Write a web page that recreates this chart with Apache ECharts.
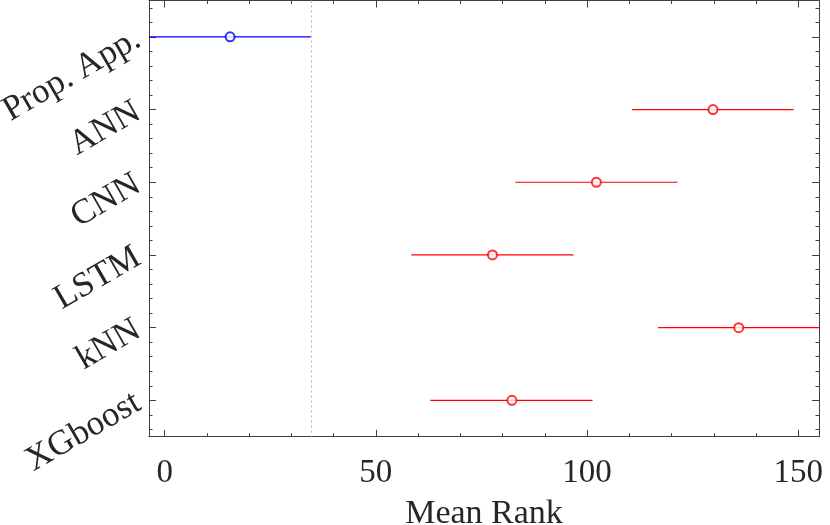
<!DOCTYPE html>
<html>
<head>
<meta charset="utf-8">
<script src="https://cdn.jsdelivr.net/npm/echarts@6/dist/echarts.min.js"></script>
<style>
  html, body { margin: 0; padding: 0; background: #fff; }
  #echart { width: 830px; height: 525px; }
</style>
</head>
<body>
<div id="echart"></div>
<script>
// groups, top to bottom
var methods = ['Prop. App.', 'ANN', 'CNN', 'LSTM', 'kNN', 'XGboost'];
// mean rank and comparison interval ends
var meanRank = [15.5, 129.8, 102.2, 77.6, 135.9, 82.2];
var lowerCI  = [-3.7, 110.6, 83.0, 58.4, 116.8, 62.9];
var upperCI  = [34.6, 148.9, 121.4, 96.8, 155.0, 101.3];
// x ticks
var xMajor = [0, 50, 100, 150];
var xMinor = [0, 10, 20, 30, 40, 50, 60, 70, 80, 90, 100, 110, 120, 130, 140, 150];
var xMin = -3.7, xMax = 154.9;

function drawChart(){
	if( typeof (echarts) === 'undefined'){ console.log('echarts is undefined'); return; }

	var FONT = 'Liberation Serif';
	var TXT = '#262626';
	var AX = '#404040';
	var BLUE = '#0000ff', RED = '#ff0000';

	var yMajor = methods.map(function(m, i){ return i + 1; });
	var yMinor = [];
	for (var j = 0; j < 30; j++) { yMinor.push(+(0.6 + 0.2 * j).toFixed(1)); }

	var rows = methods.map(function(m, i){ return [lowerCI[i], upperCI[i], i + 1]; });
	var points = methods.map(function(m, i){ return [meanRank[i], i + 1]; });

	function xAx(pos, ticks, len, line, extra){
		var a = {
			type: 'value', position: pos, min: xMin, max: xMax,
			axisLine: { show: line, onZero: false, lineStyle: { color: AX, width: 1 } },
			axisTick: { show: true, inside: true, length: len, customValues: ticks, lineStyle: { color: AX, width: 1 } },
			axisLabel: { show: false },
			splitLine: { show: false },
			axisPointer: { show: false }
		};
		for (var k in extra) a[k] = extra[k];
		return a;
	}
	function yAx(pos, ticks, len, line, extra){
		var a = {
			type: 'value', position: pos, min: 0.5, max: 6.5, inverse: true,
			axisLine: { show: line, onZero: false, lineStyle: { color: AX, width: 1 } },
			axisTick: { show: true, inside: true, length: len, customValues: ticks, lineStyle: { color: AX, width: 1 } },
			axisLabel: { show: false },
			splitLine: { show: false },
			axisPointer: { show: false }
		};
		for (var k in extra) a[k] = extra[k];
		return a;
	}

	var echart = echarts.init(document.getElementById('echart'));
	echart.setOption({
		animation: false,
		grid: { left: 149, right: 11, top: 0.5, bottom: 88.3, containLabel: false, outerBoundsMode: 'none' },
		xAxis: [
			xAx('bottom', xMajor, 7, true, {
				axisLabel: { show: true, customValues: xMajor, margin: 20, fontFamily: FONT, fontSize: 33, color: TXT },
				name: 'Mean Rank', nameLocation: 'middle', nameGap: 60, nameMoveOverlap: false,
				nameTextStyle: { fontFamily: FONT, fontSize: 34, color: TXT }
			}),
			xAx('bottom', xMinor, 3.5, false, {}),
			xAx('top', xMajor, 7, true, {}),
			xAx('top', xMinor, 3.5, false, {})
		],
		yAxis: [
			yAx('left', yMajor, 7, true, {
				axisLabel: {
					show: true, customValues: yMajor, rotate: 30, margin: 11,
					padding: [10, 0, 0, 0],
					fontFamily: FONT, fontSize: 35, color: TXT,
					formatter: function(v){ return methods[Math.round(v) - 1]; }
				}
			}),
			yAx('left', yMinor, 3.5, false, {}),
			yAx('right', yMajor, 7, true, {}),
			yAx('right', yMinor, 3.5, false, {})
		],
		series: [
			{
				name: 'interval',
				type: 'custom',
				xAxisIndex: 0, yAxisIndex: 0,
				clip: true,
				data: rows,
				renderItem: function(params, api){
					var a = api.coord([api.value(0), api.value(2)]);
					var b = api.coord([api.value(1), api.value(2)]);
					return {
						type: 'line',
						shape: { x1: a[0], y1: a[1], x2: b[0], y2: b[1] },
						style: { stroke: params.dataIndex === 0 ? BLUE : RED, lineWidth: 1.2 }
					};
				},
				markLine: {
					silent: true, symbol: 'none', label: { show: false },
					lineStyle: { color: '#b4b4b4', type: [2, 3], width: 1 },
					data: [ { xAxis: upperCI[0] } ]
				},
				z: 2
			},
			{
				name: 'mean',
				type: 'scatter',
				xAxisIndex: 0, yAxisIndex: 0,
				symbol: 'emptyCircle',
				symbolSize: 9,
				data: points,
				itemStyle: {
					color: function(p){ return p.dataIndex === 0 ? BLUE : RED; },
					borderWidth: 1
				},
				z: 3
			}
		]
	});
}
drawChart();
</script>
</body>
</html>
